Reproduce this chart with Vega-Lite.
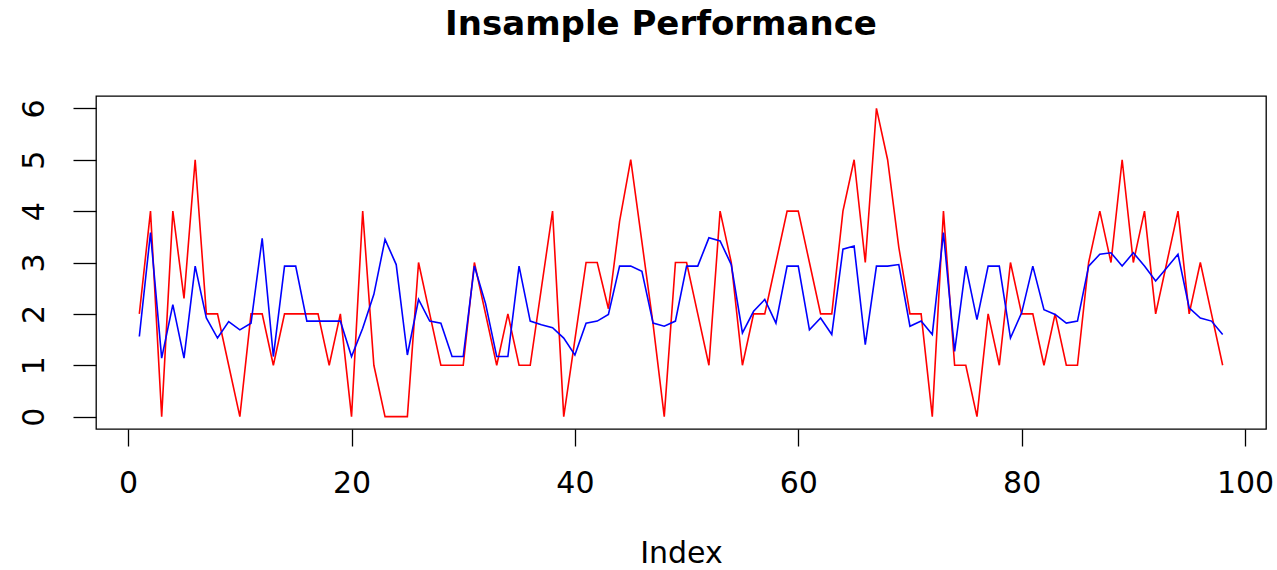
{
  "$schema": "https://vega.github.io/schema/vega-lite/v6.json",
  "width": 1170,
  "height": 333,
  "autosize": {"type": "none"},
  "padding": {"left": 96, "top": 96, "right": 11, "bottom": 141},
  "background": "white",
  "title": {
    "text": "Insample Performance",
    "font": "DejaVu Sans",
    "fontSize": 34,
    "fontWeight": "bold",
    "color": "black",
    "anchor": "middle",
    "dx": -20,
    "baseline": "alphabetic",
    "offset": 27
  },
  "config": {
    "view": {"stroke": "black", "strokeWidth": 1.3},
    "axis": {
      "domain": false,
      "grid": false,
      "tickColor": "black",
      "tickWidth": 1.3,
      "labelColor": "black",
      "labelFont": "DejaVu Sans",
      "labelFontSize": 30,
      "titleFont": "DejaVu Sans",
      "titleFontSize": 30,
      "titleFontWeight": "normal",
      "titleColor": "black"
    }
  },
  "data": {
    "values": [
      {"Index": 1, "actual": 2, "fitted": 1.56},
      {"Index": 2, "actual": 4, "fitted": 3.58},
      {"Index": 3, "actual": 0, "fitted": 1.14},
      {"Index": 4, "actual": 4, "fitted": 2.18},
      {"Index": 5, "actual": 2.3, "fitted": 1.14},
      {"Index": 6, "actual": 5, "fitted": 2.93},
      {"Index": 7, "actual": 2, "fitted": 1.92},
      {"Index": 8, "actual": 2, "fitted": 1.53},
      {"Index": 9, "actual": 1, "fitted": 1.85},
      {"Index": 10, "actual": 0, "fitted": 1.69},
      {"Index": 11, "actual": 2, "fitted": 1.82},
      {"Index": 12, "actual": 2, "fitted": 3.47},
      {"Index": 13, "actual": 1, "fitted": 1.17},
      {"Index": 14, "actual": 2, "fitted": 2.93},
      {"Index": 15, "actual": 2, "fitted": 2.93},
      {"Index": 16, "actual": 2, "fitted": 1.86},
      {"Index": 17, "actual": 2, "fitted": 1.86},
      {"Index": 18, "actual": 1, "fitted": 1.86},
      {"Index": 19, "actual": 2, "fitted": 1.86},
      {"Index": 20, "actual": 0, "fitted": 1.17},
      {"Index": 21, "actual": 4, "fitted": 1.72},
      {"Index": 22, "actual": 1, "fitted": 2.38},
      {"Index": 23, "actual": 0, "fitted": 3.45},
      {"Index": 24, "actual": 0, "fitted": 2.96},
      {"Index": 25, "actual": 0, "fitted": 1.2},
      {"Index": 26, "actual": 3, "fitted": 2.28},
      {"Index": 27, "actual": 2, "fitted": 1.86},
      {"Index": 28, "actual": 1, "fitted": 1.82},
      {"Index": 29, "actual": 1, "fitted": 1.17},
      {"Index": 30, "actual": 1, "fitted": 1.17},
      {"Index": 31, "actual": 3, "fitted": 2.93},
      {"Index": 32, "actual": 2, "fitted": 2.2},
      {"Index": 33, "actual": 1, "fitted": 1.17},
      {"Index": 34, "actual": 2, "fitted": 1.17},
      {"Index": 35, "actual": 1, "fitted": 2.93},
      {"Index": 36, "actual": 1, "fitted": 1.86},
      {"Index": 37, "actual": 2.5, "fitted": 1.79},
      {"Index": 38, "actual": 4, "fitted": 1.73},
      {"Index": 39, "actual": 0, "fitted": 1.53},
      {"Index": 40, "actual": 1.5, "fitted": 1.2},
      {"Index": 41, "actual": 3, "fitted": 1.82},
      {"Index": 42, "actual": 3, "fitted": 1.86},
      {"Index": 43, "actual": 2.1, "fitted": 1.99},
      {"Index": 44, "actual": 3.8, "fitted": 2.93},
      {"Index": 45, "actual": 5, "fitted": 2.93},
      {"Index": 46, "actual": 3.4, "fitted": 2.83},
      {"Index": 47, "actual": 1.8, "fitted": 1.82},
      {"Index": 48, "actual": 0, "fitted": 1.76},
      {"Index": 49, "actual": 3, "fitted": 1.86},
      {"Index": 50, "actual": 3, "fitted": 2.93},
      {"Index": 51, "actual": 2, "fitted": 2.93},
      {"Index": 52, "actual": 1, "fitted": 3.48},
      {"Index": 53, "actual": 4, "fitted": 3.42},
      {"Index": 54, "actual": 3, "fitted": 2.96},
      {"Index": 55, "actual": 1, "fitted": 1.63},
      {"Index": 56, "actual": 2, "fitted": 2.05},
      {"Index": 57, "actual": 2, "fitted": 2.28},
      {"Index": 58, "actual": 3, "fitted": 1.82},
      {"Index": 59, "actual": 4, "fitted": 2.93},
      {"Index": 60, "actual": 4, "fitted": 2.93},
      {"Index": 61, "actual": 3, "fitted": 1.69},
      {"Index": 62, "actual": 2, "fitted": 1.92},
      {"Index": 63, "actual": 2, "fitted": 1.6},
      {"Index": 64, "actual": 4, "fitted": 3.26},
      {"Index": 65, "actual": 5, "fitted": 3.32},
      {"Index": 66, "actual": 3, "fitted": 1.4},
      {"Index": 67, "actual": 6, "fitted": 2.93},
      {"Index": 68, "actual": 5, "fitted": 2.93},
      {"Index": 69, "actual": 3.3, "fitted": 2.96},
      {"Index": 70, "actual": 2, "fitted": 1.76},
      {"Index": 71, "actual": 2, "fitted": 1.86},
      {"Index": 72, "actual": 0, "fitted": 1.6},
      {"Index": 73, "actual": 4, "fitted": 3.58},
      {"Index": 74, "actual": 1, "fitted": 1.27},
      {"Index": 75, "actual": 1, "fitted": 2.93},
      {"Index": 76, "actual": 0, "fitted": 1.89},
      {"Index": 77, "actual": 2, "fitted": 2.93},
      {"Index": 78, "actual": 1, "fitted": 2.93},
      {"Index": 79, "actual": 3, "fitted": 1.53},
      {"Index": 80, "actual": 2, "fitted": 2.02},
      {"Index": 81, "actual": 2, "fitted": 2.93},
      {"Index": 82, "actual": 1, "fitted": 2.08},
      {"Index": 83, "actual": 2, "fitted": 1.99},
      {"Index": 84, "actual": 1, "fitted": 1.82},
      {"Index": 85, "actual": 1, "fitted": 1.86},
      {"Index": 86, "actual": 3, "fitted": 2.93},
      {"Index": 87, "actual": 4, "fitted": 3.16},
      {"Index": 88, "actual": 3, "fitted": 3.19},
      {"Index": 89, "actual": 5, "fitted": 2.93},
      {"Index": 90, "actual": 3, "fitted": 3.19},
      {"Index": 91, "actual": 4, "fitted": 2.93},
      {"Index": 92, "actual": 2, "fitted": 2.64},
      {"Index": 93, "actual": 3, "fitted": 2.9},
      {"Index": 94, "actual": 4, "fitted": 3.16},
      {"Index": 95, "actual": 2, "fitted": 2.12},
      {"Index": 96, "actual": 3, "fitted": 1.92},
      {"Index": 97, "actual": 2, "fitted": 1.86},
      {"Index": 98, "actual": 1, "fitted": 1.6}
    ]
  },
  "encoding": {
    "x": {
      "field": "Index",
      "type": "quantitative",
      "scale": {"domain": [-2.88, 101.88], "nice": false, "zero": false},
      "axis": {
        "title": "Index",
        "values": [0, 20, 40, 60, 80, 100],
        "tickSize": 17,
        "labelPadding": 22,
        "titlePadding": 40,
        "labelAngle": 0
      }
    }
  },
  "layer": [
    {
      "mark": {"type": "line", "color": "#ff0000", "strokeWidth": 1.6},
      "encoding": {
        "y": {
          "field": "actual",
          "type": "quantitative",
          "scale": {"domain": [-0.24, 6.24], "nice": false, "zero": false},
          "axis": {
            "title": null,
            "values": [0, 1, 2, 3, 4, 5, 6],
            "tickSize": 23,
            "labelPadding": 30,
            "labelAngle": -90,
            "labelAlign": "center",
            "labelBaseline": "alphabetic"
          }
        }
      }
    },
    {
      "mark": {"type": "line", "color": "#0000ff", "strokeWidth": 1.6},
      "encoding": {
        "y": {"field": "fitted", "type": "quantitative"}
      }
    }
  ]
}
